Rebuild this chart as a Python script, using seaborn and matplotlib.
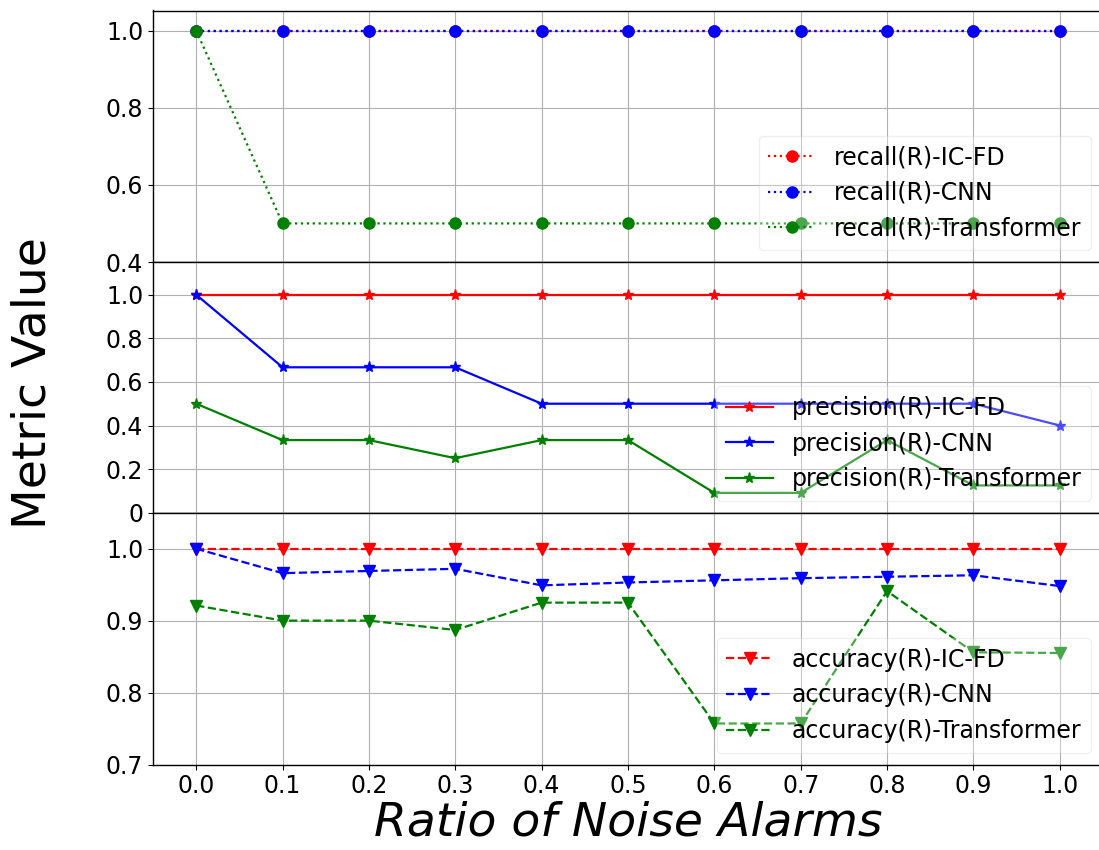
import matplotlib
matplotlib.use("Agg")
import matplotlib.pyplot as plt
import seaborn as sns
import numpy as np

ratios = [0.0, 0.1, 0.2, 0.3, 0.4, 0.5, 0.6, 0.7, 0.8, 0.9, 1.0]
xtick_labels = ["0.0", "0.1", "0.2", "0.3", "0.4", "0.5", "0.6", "0.7", "0.8", "0.9", "1.0"]

recall_icfd = [1.0, 1.0, 1.0, 1.0, 1.0, 1.0, 1.0, 1.0, 1.0, 1.0, 1.0]
recall_cnn = [1.0, 1.0, 1.0, 1.0, 1.0, 1.0, 1.0, 1.0, 1.0, 1.0, 1.0]
recall_trans = [1.0, 0.5, 0.5, 0.5, 0.5, 0.5, 0.5, 0.5, 0.5, 0.5, 0.5]

precision_icfd = [1.0, 1.0, 1.0, 1.0, 1.0, 1.0, 1.0, 1.0, 1.0, 1.0, 1.0]
precision_cnn = [1.0, 0.667, 0.667, 0.667, 0.5, 0.5, 0.5, 0.5, 0.5, 0.5, 0.4]
precision_trans = [0.5, 0.333, 0.333, 0.25, 0.333, 0.333, 0.0909, 0.0909, 0.333, 0.125, 0.125]

accuracy_icfd = [1.0, 1.0, 1.0, 1.0, 1.0, 1.0, 1.0, 1.0, 1.0, 1.0, 1.0]
accuracy_cnn = [1.0, 0.966, 0.969, 0.972, 0.949, 0.953, 0.956, 0.959, 0.961, 0.963, 0.948]
accuracy_trans = [0.921, 0.900, 0.900, 0.887, 0.925, 0.925, 0.757, 0.757, 0.941, 0.856, 0.855]

models = ["IC-FD", "CNN", "Transformer"]
colors = ["red", "blue", "green"]

recall_yticks = [0.4, 0.6, 0.8, 1.0]
recall_ylabels = ["0.4", "0.6", "0.8", "1.0"]
precision_yticks = [0, 0.2, 0.4, 0.6, 0.8, 1.0]
precision_ylabels = ["0", "0.2", "0.4", "0.6", "0.8", "1.0"]
accuracy_yticks = [0.7, 0.8, 0.9, 1.0]
accuracy_ylabels = ["0.7", "0.8", "0.9", "1.0"]

fig = plt.figure(figsize=(10.99, 8.5), dpi=100)
W, H = 1099.0, 850.0
left = 153 / W
right = 1103 / W
tops = [10.5, 262, 512.7]
bots = [262, 512.7, 764.5]
axes = []
for i in range(3):
    if i == 0:
        ax = fig.add_axes([left, 1 - bots[i] / H, right - left, (bots[i] - tops[i]) / H])
    else:
        ax = fig.add_axes([left, 1 - bots[i] / H, right - left, (bots[i] - tops[i]) / H], sharex=axes[0])
    axes.append(ax)

panels = [
    ("recall", [recall_icfd, recall_cnn, recall_trans], "o", ":", (0.4, 1.052), recall_yticks, recall_ylabels),
    ("precision", [precision_icfd, precision_cnn, precision_trans], "*", "-", (0, 1.15), precision_yticks, precision_ylabels),
    ("accuracy", [accuracy_icfd, accuracy_cnn, accuracy_trans], "v", "--", (0.7, 1.05), accuracy_yticks, accuracy_ylabels),
]

for ax, (name, series, marker, ls, ylim, yt, yl) in zip(axes, panels):
    for vals, model, c in zip(series, models, colors):
        sns.lineplot(x=ratios, y=vals, ax=ax, color=c, marker=marker, linestyle=ls,
                     markersize=8, markeredgecolor=c, markeredgewidth=1, linewidth=1.6,
                     label=f"{name}(R)-{model}")
    ax.set_ylim(*ylim)
    ax.set_yticks(yt)
    ax.set_yticklabels(yl, fontsize=17)
    ax.grid(True, color="#b0b0b0", linewidth=0.8)
    ax.legend(loc="lower right", fontsize=17, framealpha=0.3)
    for s in ax.spines.values():
        s.set_linewidth(1.0)

axes[0].set_xlim(-0.05, 1.05)
axes[2].set_xticks(ratios)
axes[2].set_xticklabels(xtick_labels, fontsize=17)
for ax in axes[:2]:
    ax.tick_params(labelbottom=False)

axes[2].set_xlabel("Ratio of Noise Alarms", fontsize=34, style="italic", labelpad=2)
fig.text(0.030, 1 - 383 / H, "Metric Value", fontsize=34, rotation=90,
         ha="center", va="center")

fig.savefig("out.png", dpi=100)
